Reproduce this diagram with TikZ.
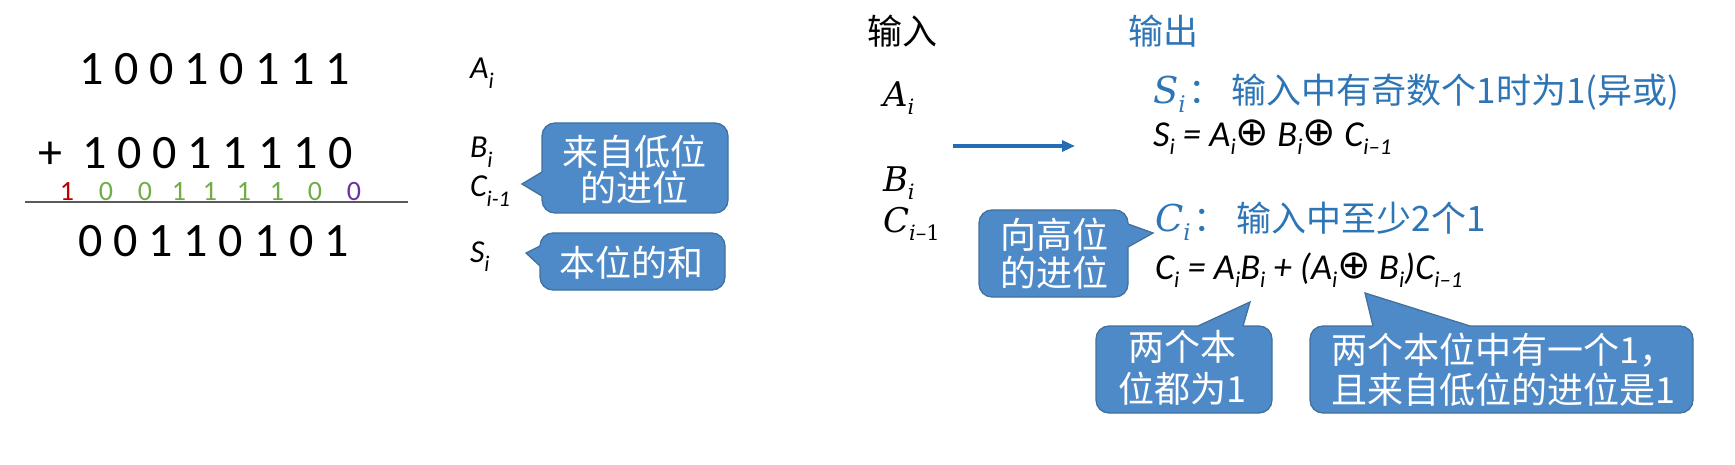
\documentclass[tikz,border=0pt]{standalone}
\usepackage{fontspec}
\usetikzlibrary{arrows.meta}
\newfontfamily\calf{Carlito}
\newfontfamily\cjk{Noto Sans CJK SC}
\newfontfamily\dvs{DejaVu Sans}
\newfontfamily\camf{DejaVu Serif}
\newcommand\fs[1]{\fontsize{#1}{#1}\selectfont}
\newcommand\lsub[1]{\raisebox{-0.22em}{\scalebox{0.62}{#1}}}
\newcommand\bsub[1]{\raisebox{-0.3em}{\scalebox{0.7}{#1}}}
\newcommand\cv[2]{#1\lsub{#2}}
\newcommand\opx{\raisebox{1pt}{\dvs\upshape\fs{40}⊕}}
\definecolor{tblue}{RGB}{46,117,182}
\definecolor{arrblue}{RGB}{36,108,180}
\definecolor{cofill}{RGB}{79,138,200}
\definecolor{coline}{RGB}{65,113,156}
\definecolor{cred}{RGB}{192,0,0}
\definecolor{cgreen}{RGB}{112,173,71}
\definecolor{cpurple}{RGB}{112,48,160}
\definecolor{rulegray}{RGB}{90,90,90}
\begin{document}
\begin{tikzpicture}[x=1pt,y=-1pt,
  txt/.style={inner sep=0pt, outer sep=0pt},
  bl/.style={txt, anchor=base west},
  bc/.style={txt, anchor=base},
  lab/.style={bl, font=\calf\itshape\fs{32}},
  inp/.style={bl, font=\camf\itshape\fs{34}},
  frm/.style={bl, font=\calf\itshape\fs{36.5}},
  cobox/.style={fill=cofill, draw=coline, line width=1.3pt, rounded corners=13pt},
  copt/.style={fill=cofill},
  coedge/.style={draw=coline, line width=1.3pt},
  cotext/.style={txt, align=center, text=white}]
\useasboundingbox (0,0) rectangle (1735,465);

% ---- left: binary addition
\node[bc, font=\calf\fs{48}] (r1) at (214.5,85) {1 0 0 1 0 1 1 1};
\node[bc, font=\calf\fs{48}] (plus) at (50,169) {+};
\node[bc, font=\calf\fs{48}] (r2) at (217.5,169) {1 0 0 1 1 1 1 0};
\node[bc, font=\calf\fs{48}] (r3) at (213.5,257) {0 0 1 1 0 1 0 1};
\foreach \x/\d/\c [count=\k] in {67/1/cred,106/0/cgreen,145/0/cgreen,179/1/cgreen,210/1/cgreen,244/1/cgreen,277/1/cgreen,315/0/cgreen,354/0/cpurple}
  \node[bc, font=\calf\fs{28}, text=\c] (c\k) at (\x,201) {\d};
\coordinate (L1) at (25,202);
\coordinate (L2) at (408,202);
\draw[rulegray, line width=1.3pt] (L1) -- (L2);

% ---- left labels
\node[lab] (lA) at (470,79) {A\bsub{i}};
\node[lab] (lB) at (470,158) {B\bsub{i}};
\node[lab] (lC) at (470,197) {C\bsub{i-1}};
\node[lab] (lS) at (470,262) {S\bsub{i}};

% callout 1
\draw[cobox] (542,123) rectangle (728,213);
\fill[copt] (522,184) -- (542,172) -- (546,172) -- (546,196) -- (542,196) -- cycle;
\draw[coedge] (542,172) -- (522,184) -- (542,196);
\node[cotext, font=\cjk\fontsize{36}{36}\selectfont] (t1) at (634,169.5) {来自低位\\的进位};
% callout 2
\draw[cobox] (540,233) rectangle (725,290);
\fill[copt] (526,253) -- (540,246) -- (544,246) -- (544,266) -- (540,266) -- cycle;
\draw[coedge] (540,246) -- (526,253) -- (540,266);
\node[cotext, font=\cjk\fontsize{36}{36}\selectfont] (t2) at (631,263) {本位的和};

% ---- right: inputs
\node[bl, font=\cjk\fs{35}] (hin) at (867,45) {输入};
\node[bl, font=\cjk\fs{35}, text=tblue] (hout) at (1128,45) {输出};
\node[inp] (iA) at (883,107) {A\lsub{i}};
\node[inp] (iB) at (883,192) {B\lsub{i}};
\node[inp] (iC) at (883,233) {C\lsub{i\upshape –1}};
\coordinate (a1) at (953,146);
\coordinate (a2) at (1075,146);
\draw[arrblue, line width=3.5pt, -{Triangle[length=13pt,width=11pt]}] (a1) -- (a2);

% ---- outputs
\node[bl, text=tblue] (so) at (1153,104) {{\camf\itshape\fs{37}S\lsub{i}}\hspace{3pt}{\cjk\fs{35}：\hspace{8pt}输入中有奇数个1时为1(异或)}};
\node[frm] (sf) at (1153,146.5) {\cv{S}{i} = \cv{A}{i}\opx{} \cv{B}{i}\opx{} \cv{C}{i–1}};
\node[bl, text=tblue] (co) at (1155,232) {{\camf\itshape\fs{37}C\lsub{i}}\hspace{3pt}{\cjk\fs{35}：\hspace{8pt}输入中至少2个1}};
\node[frm] (cf) at (1155,279) {\cv{C}{i} = \cv{A}{i}\cv{B}{i} + (\cv{A}{i}\opx{} \cv{B}{i})\cv{C}{i–1}};

% callout 3
\draw[cobox] (979,210) rectangle (1128,297);
\fill[copt] (1153,233) -- (1128,224) -- (1124,224) -- (1124,247) -- (1128,247) -- cycle;
\draw[coedge] (1128,224) -- (1153,233) -- (1128,247);
\node[cotext, font=\cjk\fontsize{36}{38}\selectfont] (t3) at (1054.5,254) {向高位\\的进位};
% callout 4
\draw[cobox] (1096,326) rectangle (1272,413);
\fill[copt] (1250,302) -- (1198,326) -- (1198,330) -- (1243,330) -- (1243,326) -- cycle;
\draw[coedge] (1198,326) -- (1250,302) -- (1243,326);
\node[cotext, font=\cjk\fontsize{36}{42}\selectfont] (t4) at (1182,368) {两个本\\位都为1};
% callout 5
\draw[cobox] (1310,326) rectangle (1693,413);
\fill[copt] (1365,293) -- (1373,326) -- (1373,330) -- (1470,330) -- (1470,326) -- cycle;
\draw[coedge] (1373,326) -- (1365,293) -- (1470,326);
\node[cotext, font=\cjk\fontsize{36}{40}\selectfont] (t5) at (1503,370) {两个本位中有一个1，\\且来自低位的进位是1};
\end{tikzpicture}
\end{document}
